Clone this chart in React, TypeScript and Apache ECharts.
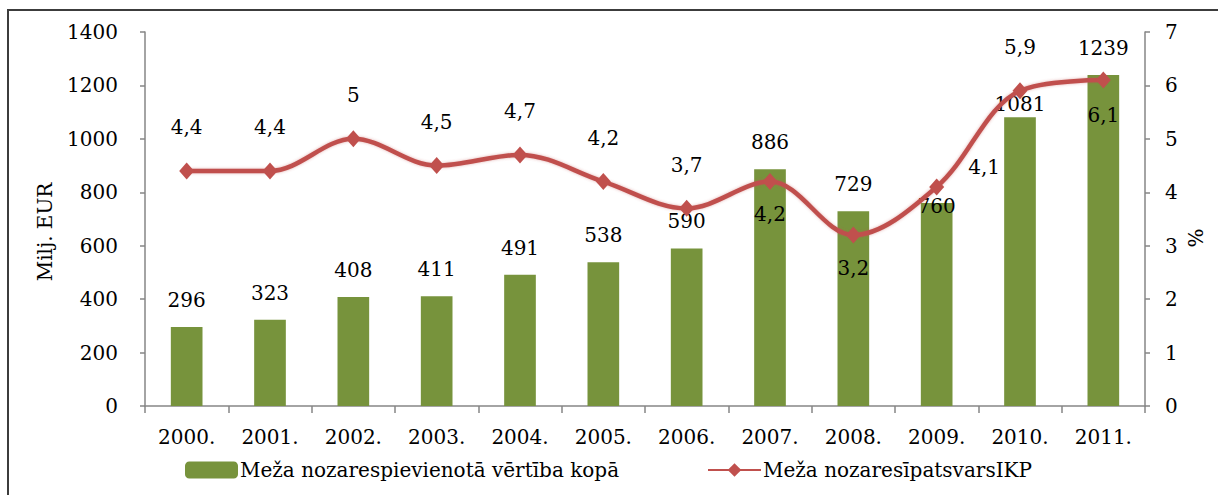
import React, { useEffect, useRef } from "react";
import * as echarts from "echarts";

const years = ["2000.", "2001.", "2002.", "2003.", "2004.", "2005.", "2006.", "2007.", "2008.", "2009.", "2010.", "2011."];
const addedValue = [296, 323, 408, 411, 491, 538, 590, 886, 729, 760, 1081, 1239];
const gdpShare = [4.4, 4.4, 5, 4.5, 4.7, 4.2, 3.7, 4.2, 3.2, 4.1, 5.9, 6.1];
const leftTicks = { min: 0, max: 1400, interval: 200 };
const rightTicks = { min: 0, max: 7, interval: 1 };
const barName = "Meža nozarespievienotā vērtība kopā";
const lineName = "Meža nozaresīpatsvarsIKP";
const leftAxisName = "Milj. EUR";
const rightAxisName = "%";

const FONT = "DejaVu Serif";
const FS = 20;
const GREEN = "#77933C";
const RED = "#C0504D";
const AXIS = "#868686";

// label placement overrides (styles, not data)
const lineLabelPlacement: Record<number, any> = {
  7: { position: "bottom", distance: 14 },
  8: { position: "bottom", distance: 14 },
  9: { position: "right", distance: 24, offset: [0, -20] },
  11: { position: "bottom", distance: 16 },
};
const barLabelPlacement: Record<number, any> = {
  9: { position: "top", distance: -13 },
  10: { position: "top", distance: 3 },
};

export default function App() {
  const ref = useRef<HTMLDivElement>(null);
  useEffect(() => {
    if (!ref.current) return;
    const chart = echarts.init(ref.current, null, { renderer: "svg" });
    const textBase = { fontFamily: FONT, fontSize: FS, color: "#000" };
    const option: any = {
      animation: false,
      backgroundColor: "#fff",
      textStyle: { fontFamily: FONT },
      grid: { left: 145, right: 73, top: 32, bottom: 89, containLabel: false },
      legend: [
        {
          data: [barName],
          left: 180,
          top: 455,
          itemWidth: 53,
          itemHeight: 17,
          itemGap: 0,
          textStyle: { ...textBase, padding: [0, 0, 0, -3] },
        },
        {
          data: [lineName],
          left: 702,
          top: 455,
          itemWidth: 53,
          itemHeight: 17,
          itemGap: 0,
          textStyle: { ...textBase, padding: [0, 0, 0, -3] },
        },
      ],
      xAxis: {
        type: "category",
        data: years,
        boundaryGap: true,
        axisLine: { lineStyle: { color: AXIS, width: 1.5 } },
        axisTick: { show: true, length: 7, lineStyle: { color: AXIS, width: 1.5 } },
        axisLabel: { ...textBase, margin: 21 },
      },
      yAxis: [
        {
          type: "value",
          ...leftTicks,
          splitLine: { show: false },
          axisLine: { show: true, lineStyle: { color: AXIS, width: 1.5 } },
          axisTick: { show: true, length: 5, lineStyle: { color: AXIS, width: 1.5 } },
          axisLabel: { ...textBase, margin: 27, formatter: (v: number) => String(v) },
        },
        {
          type: "value",
          ...rightTicks,
          position: "right",
          splitLine: { show: false },
          axisLine: { show: true, lineStyle: { color: AXIS, width: 1.5 } },
          axisTick: { show: true, length: 5, lineStyle: { color: AXIS, width: 1.5 } },
          axisLabel: { ...textBase, margin: 20, formatter: (v: number) => String(v) },
        },
      ],
      series: [
        {
          name: barName,
          type: "bar",
          yAxisIndex: 0,
          barWidth: "38%",
          itemStyle: { color: GREEN },
          z: 2,
          label: { show: true, position: "top", distance: 17, ...textBase },
          data: addedValue.map((v, i) =>
            barLabelPlacement[i] ? { value: v, label: barLabelPlacement[i] } : v
          ),
        },
        {
          name: lineName,
          type: "line",
          yAxisIndex: 1,
          smooth: 0.35,
          symbol: "diamond",
          symbolSize: [15, 17],
          z: 3,
          lineStyle: { color: RED, width: 4.5, shadowBlur: 3, shadowColor: "rgba(192,80,77,0.45)" },
          itemStyle: { color: RED },
          label: {
            show: true,
            position: "top",
            distance: 25,
            ...textBase,
            formatter: (p: any) => String(p.value).replace(".", ","),
          },
          data: gdpShare.map((v, i) =>
            lineLabelPlacement[i] ? { value: v, label: lineLabelPlacement[i] } : v
          ),
        },
      ],
      graphic: [
        {
          type: "rect",
          shape: { x: 8, y: 10, width: 1240, height: 520 },
          style: { fill: "none", stroke: "#3c3c3c", lineWidth: 2 },
          silent: true,
        },
        {
          type: "text",
          x: 45,
          y: 232,
          rotation: Math.PI / 2,
          style: {
            text: leftAxisName,
            font: `${FS}px "${FONT}"`,
            fill: "#000",
            align: "center",
            verticalAlign: "middle",
            textAlign: "center",
            textVerticalAlign: "middle",
          },
        },
        {
          type: "text",
          x: 1195,
          y: 238,
          rotation: -Math.PI / 2,
          style: {
            text: rightAxisName,
            font: `${FS}px "${FONT}"`,
            fill: "#000",
            align: "center",
            verticalAlign: "middle",
            textAlign: "center",
            textVerticalAlign: "middle",
          },
        },
      ],
    };
    chart.setOption(option);
    return () => chart.dispose();
  }, []);
  return (
    <div
      ref={ref}
      style={{ position: "fixed", left: 0, top: 0, width: 1218, height: 495 }}
    />
  );
}
